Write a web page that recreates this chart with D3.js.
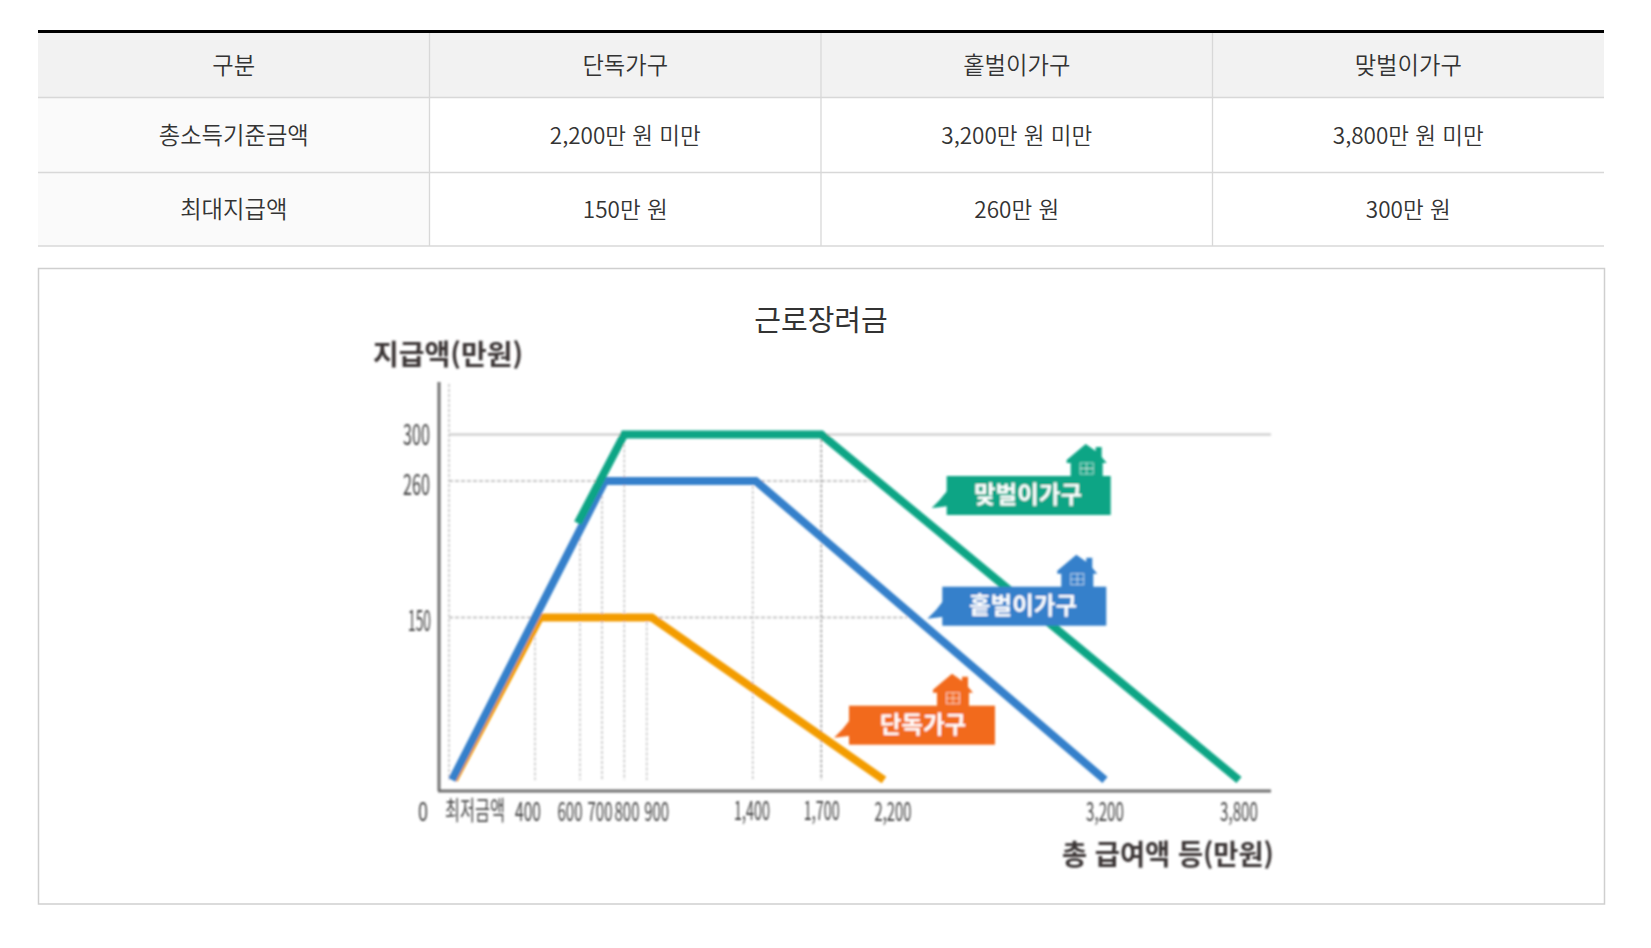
<!DOCTYPE html>
<html lang="ko"><head><meta charset="utf-8">
<script src="https://d3js.org/d3.v7.min.js"></script>
<style>html,body{margin:0;padding:0;background:#fff}svg{display:block}text{font-family:"Noto Sans CJK KR","Noto Sans",sans-serif}</style>
</head><body><svg id="c" width="1651" height="948"></svg>
<script>
// ---- data ----
const tableHeader = ["구분","단독가구","홑벌이가구","맞벌이가구"];
const tableRow1 = ["총소득기준금액","2,200만 원 미만","3,200만 원 미만","3,800만 원 미만"];
const tableRow2 = ["최대지급액","150만 원","260만 원","300만 원"];
const chartTitle = "근로장려금";
const yTitle = "지급액(만원)";
const xTitle = "총 급여액 등(만원)";
const xTicks = [0,400,600,700,800,900,1400,1700,2200,3200,3800];
const xTickLabels = ["최저금액","400","600","700","800","900","1,400","1,700","2,200","3,200","3,800"];
const yTicks = [150,260,300];
const singleX = [0,400,900,2200],  singleY = [0,150,150,0];
const oneEarnerX = [0,700,1400,3200], oneEarnerY = [0,260,260,0];
const dualX = [590,800,1700,3800], dualY = [226,300,300,0];
const seriesNames = ["단독가구","홑벌이가구","맞벌이가구"];

// ---- scales (the source graphic has a hand-drawn, non-uniform axis) ----
const x = d3.scaleLinear().domain(xTicks).range([449,535,580,602,624.3,646.7,752.7,821.3,879,1102,1239]);
const y = d3.scaleLinear().domain([0,150,260,300]).range([780,617.5,481,434.5]);

const svg = d3.select("#c");

// squeeze a text horizontally to a target width (keeps its bounding box honest)
function squeeze(sel,width,px,py){
  sel.each(function(d){
    const w = typeof width==="function"?width(d):width;
    const n = this.getComputedTextLength();
    const X = typeof px==="function"?px(d):px, Y = typeof py==="function"?py(d):py;
    d3.select(this).attr("x",0).attr("y",0).attr("transform",`translate(${X},${Y}) scale(${w/n},1)`);
  });
}

// ---- table ----
const colX = d3.scaleLinear().domain([0,4]).range([38,1604]);
const rowEdges = [32,97.5,172.5,246];
const t = svg.append("g");
t.append("rect").attr("x",colX(0)).attr("y",rowEdges[0]).attr("width",colX(4)-colX(0)).attr("height",rowEdges[1]-rowEdges[0]).attr("fill","#f2f2f2");
t.append("rect").attr("x",colX(0)).attr("y",rowEdges[1]).attr("width",colX(1)-colX(0)).attr("height",rowEdges[3]-rowEdges[1]).attr("fill","#fafafa");
[1,2,3].forEach(i=>t.append("line").attr("x1",colX(i)).attr("x2",colX(i)).attr("y1",rowEdges[0]).attr("y2",rowEdges[3]).attr("stroke","#d8d8d8").attr("stroke-width",1.3));
rowEdges.slice(1).forEach(v=>t.append("line").attr("x1",colX(0)).attr("x2",colX(4)).attr("y1",v).attr("y2",v).attr("stroke","#d8d8d8").attr("stroke-width",1.5));
t.append("line").attr("x1",colX(0)).attr("x2",colX(4)).attr("y1",31.5).attr("y2",31.5).attr("stroke","#000").attr("stroke-width",3);
[tableHeader,tableRow1,tableRow2].forEach((row,r)=>{
  row.forEach((s,c)=>{
    t.append("text").attr("x",colX(c+0.5)).attr("y",(rowEdges[r]+rowEdges[r+1])/2-1)
     .attr("text-anchor","middle").attr("dominant-baseline","central")
     .attr("font-size",/\d/.test(s)?22.5:23.3).attr("fill","#333").attr("font-weight",350).text(s);
  });
});

// ---- chart frame ----
svg.append("rect").attr("x",38.5).attr("y",268.5).attr("width",1566).attr("height",635.5).attr("fill","#fff").attr("stroke","#cfcfcf").attr("stroke-width",1.5);
svg.append("text").attr("x",821).attr("y",318).attr("text-anchor","middle").attr("dominant-baseline","central").attr("font-size",29).attr("fill","#333").text(chartTitle);

const defs = svg.append("defs");
defs.append("filter").attr("id","soft").append("feGaussianBlur").attr("stdDeviation",0.8);
const g = svg.append("g").attr("filter","url(#soft)");

// grid
const grid = g.append("g");
grid.append("line").attr("x1",x(0)).attr("x2",1271).attr("y1",y(300)).attr("y2",y(300)).attr("stroke","#c8c8c8").attr("stroke-width",2);
[[260,870],[150,907]].forEach(([v,end])=>grid.append("line").attr("x1",x(0)).attr("x2",end).attr("y1",y(v)).attr("y2",y(v)).attr("stroke","#b4b4b4").attr("stroke-width",1.4).attr("stroke-dasharray","4 2"));
const verticalTops = {0:null,400:150,600:226,700:260,800:300,900:150,1400:260,1700:300};
Object.keys(verticalTops).forEach(k=>{
  const v=+k, top=verticalTops[k];
  grid.append("line").attr("x1",x(v)).attr("x2",x(v)).attr("y1",top===null?384:y(top)).attr("y2",y(0))
    .attr("stroke",v===1700?"#8c8c8c":"#bdbdbd").attr("stroke-width",1.4).attr("stroke-dasharray","3 2");
});

// axes
const yAxis = d3.axisLeft(y).tickValues(yTicks).tickSize(0).tickPadding(0);
const xAxis = d3.axisBottom(x).tickValues(xTicks).tickFormat((d,i)=>xTickLabels[i]).tickSize(0).tickPadding(0);
const axisColor="#6f6f6f";
g.append("line").attr("x1",x(0)-10).attr("x2",x(0)-10).attr("y1",382).attr("y2",791).attr("stroke",axisColor).attr("stroke-width",3);
g.append("line").attr("x1",x(0)-11).attr("x2",1271).attr("y1",791).attr("y2",791).attr("stroke",axisColor).attr("stroke-width",3);

const yg = g.append("g").attr("transform","translate(430,0)").call(yAxis);
yg.select(".domain").remove();
const yLabelNudge = {150:[1,0],260:[0,1],300:[0,-2]};
yg.selectAll("text").attr("font-size",28).attr("fill","#444").attr("text-anchor","end")
  .attr("dominant-baseline","central").attr("dy",null);
squeeze(yg.selectAll("text"),d=>d===150?23:27,d=>yLabelNudge[d][0],d=>yLabelNudge[d][1]);

const labelCentres = {0:475,400:528,600:570,700:600,800:627,900:656.7,1400:752,1700:821.7,2200:893,3200:1105,3800:1239};
const labelWidths  = {0:60,400:26,600:25,700:25,800:25,900:25,1400:36,1700:36,2200:37,3200:38,3800:38};
const xg = g.append("g").attr("transform","translate(0,809)").call(xAxis);
xg.select(".domain").remove();
xg.selectAll(".tick").attr("transform",d=>`translate(${labelCentres[d]},0)`);
xg.selectAll("text").attr("font-size",26).attr("fill","#444").attr("text-anchor","middle")
  .attr("dominant-baseline","central").attr("dy",null);
squeeze(xg.selectAll("text"),d=>labelWidths[d],0,0);
const zeroLabel = g.append("text").attr("text-anchor","middle").attr("dominant-baseline","central").attr("font-size",26).attr("fill","#444").text("0");
squeeze(zeroLabel,10,423,809);

// series
const line = d3.line().x(d=>x(d[0])).y(d=>y(d[1])).curve(d3.curveLinear);
const colours = {single:"#f39c00",one:"#3580cb",dual:"#0aa585"};
[[singleX,singleY,colours.single,5],[oneEarnerX,oneEarnerY,colours.one,3],[dualX,dualY,colours.dual,0]].forEach(([xs,ys,col,dx])=>{
  g.append("path").attr("d",line(xs.map((v,i)=>[v,ys[i]]))).attr("transform",`translate(${dx},0)`)
   .attr("fill","none").attr("stroke",col).attr("stroke-width",8).attr("stroke-linejoin","miter");
});

// callout labels
const callouts = [
 {name:seriesNames[2],fill:"#0aa585",left:946.7,top:476,w:164,h:39,house:140,tx:1028},
 {name:seriesNames[1],fill:"#3580cb",left:942.3,top:586.7,w:164,h:39,house:135,tx:1023},
 {name:seriesNames[0],fill:"#f26a1f",left:849,top:705.7,w:146,h:39,house:104,tx:923},
];
callouts.forEach(c=>{
  const b=g.append("g");
  b.append("path").attr("transform",`translate(${c.left},${c.top})`).attr("fill",c.fill).attr("d","M1,14 Q-6,24 -15,32 Q-6,31 1,30 Z");
  b.append("rect").attr("x",c.left).attr("y",c.top).attr("width",c.w).attr("height",c.h).attr("fill",c.fill);
  const h=b.append("g").attr("transform",`translate(${c.left+c.house},${c.top})`);
  h.append("path").attr("fill",c.fill).attr("d","M-16,1 L-16,-13 L-20,-13 L-20,-16 L-1,-32 L9,-25 L9,-29 L15,-29 L15,-19 L20,-13 L16,-13 L16,1 Z");
  h.append("g").attr("stroke","#fff").attr("stroke-opacity",0.65).attr("stroke-width",1).attr("fill","none").call(s=>{
    s.append("rect").attr("x",-6.5).attr("y",-13).attr("width",13).attr("height",11);
    s.append("line").attr("x1",0).attr("x2",0).attr("y1",-13).attr("y2",-2);
    s.append("line").attr("x1",-6.5).attr("x2",6.5).attr("y1",-7.5).attr("y2",-7.5);
  });
  b.append("text").attr("x",c.tx).attr("y",c.top+17).attr("text-anchor","middle").attr("dominant-baseline","central")
   .attr("font-size",23.5).attr("font-weight",700).attr("fill","#fff").text(c.name);
});

// axis titles
const yT = g.append("text").attr("text-anchor","middle").attr("dominant-baseline","central")
 .attr("font-size",28).attr("font-weight",700).attr("fill","#3a3535").text(yTitle);
squeeze(yT,150,448,353);
const xT = g.append("text").attr("text-anchor","middle").attr("dominant-baseline","central")
 .attr("font-size",28).attr("font-weight",700).attr("fill","#3a3535").text(xTitle);
squeeze(xT,212,1168,853);
</script></body></html>
